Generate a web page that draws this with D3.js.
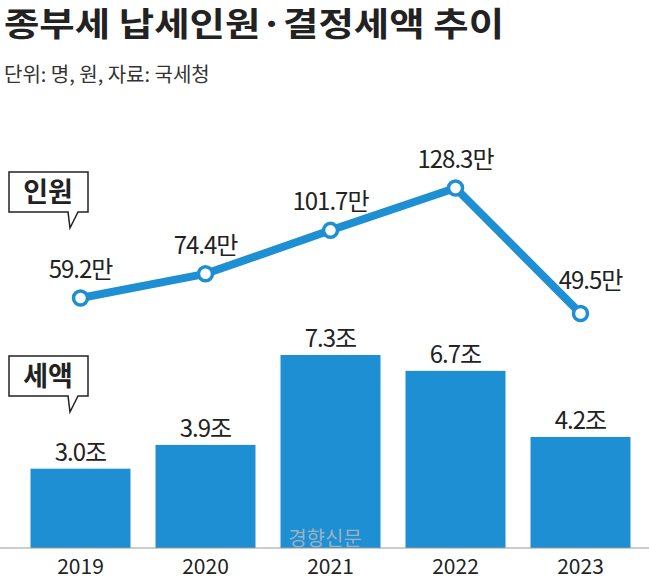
<html>
<head>
<script src="https://d3js.org/d3.v7.min.js"></script>
<style>body{margin:0;background:#fff}</style>
</head>
<body>
<script>
const years = ["2019", "2020", "2021", "2022", "2023"];
const people = [59.2, 74.4, 101.7, 128.3, 49.5];
const tax = [3.0, 3.9, 7.3, 6.7, 4.2];
const blue = "#1f8fd4";
const font = "'Noto Sans CJK KR', 'Noto Sans', sans-serif";
const W = 649, H = 582;

const svg = d3.select("body").append("svg").attr("width", W).attr("height", H)
  .style("font-family", font);

svg.append("text").attr("x", 4).attr("y", 36).attr("font-size", 33).attr("font-weight", 700)
  .attr("fill", "#222").attr("textLength", 500).attr("lengthAdjust", "spacingAndGlyphs")
  .text("종부세 납세인원·결정세액 추이");
svg.append("text").attr("x", 4).attr("y", 82).attr("font-size", 20)
  .attr("fill", "#333").text("단위: 명, 원, 자료: 국세청");

const x = d3.scaleBand().domain(years).range([18, 643]).paddingInner(0.2).paddingOuter(0.1);
const base = 548;
const yb = d3.scaleLinear().domain([0, 7.3]).range([base, 355]);
const yl = d3.scaleLinear().domain([59.2, 128.3]).range([298, 188]);
const cx = d => x(d) + x.bandwidth() / 2;

svg.selectAll("rect.bar").data(tax).join("rect").attr("class", "bar")
  .attr("x", (d, i) => x(years[i])).attr("width", x.bandwidth())
  .attr("y", d => yb(d)).attr("height", d => base - yb(d)).attr("fill", blue);

svg.selectAll("text.bv").data(tax).join("text").attr("class", "bv")
  .attr("x", (d, i) => cx(years[i])).attr("y", d => yb(d) - 8)
  .attr("text-anchor", "middle").attr("font-size", 24).attr("fill", "#222").attr("letter-spacing", -1)
  .text(d => d.toFixed(1) + "조");

svg.append("line").attr("x1", 0).attr("x2", W).attr("y1", base).attr("y2", base)
  .attr("stroke", "#999").attr("stroke-width", 1);

svg.append("text").attr("x", 325).attr("y", 546).attr("text-anchor", "middle")
  .attr("font-size", 20).attr("fill", "#bbb").attr("opacity", 0.8).text("경향신문");

svg.selectAll("text.yr").data(years).join("text").attr("class", "yr")
  .attr("x", d => cx(d)).attr("y", 574).attr("text-anchor", "middle")
  .attr("font-size", 21).attr("fill", "#222").text(d => d);

const line = d3.line().x((d, i) => cx(years[i])).y(d => yl(d));
svg.append("path").datum(people).attr("d", line).attr("fill", "none")
  .attr("stroke", blue).attr("stroke-width", 8).attr("stroke-linejoin", "round");
svg.selectAll("circle").data(people).join("circle")
  .attr("cx", (d, i) => cx(years[i])).attr("cy", d => yl(d)).attr("r", 7)
  .attr("fill", "#fff").attr("stroke", blue).attr("stroke-width", 3.5);

const lblOff = [[0, -20], [0, -20], [0, -20], [0, -20], [10, -24]];
svg.selectAll("text.pv").data(people).join("text").attr("class", "pv")
  .attr("x", (d, i) => cx(years[i]) + lblOff[i][0]).attr("y", (d, i) => yl(d) + lblOff[i][1])
  .attr("text-anchor", "middle").attr("font-size", 24).attr("fill", "#222").attr("letter-spacing", -1)
  .text(d => d.toFixed(1) + "만");

function callout(y0, label) {
  const g = svg.append("g");
  g.append("path")
    .attr("d", `M9,${y0} H88 V${y0 + 40} H78 L70,${y0 + 56} L68,${y0 + 40} H9 Z`)
    .attr("fill", "#fff").attr("stroke", "#222").attr("stroke-width", 1.5);
  g.append("text").attr("x", 48).attr("y", y0 + 30).attr("text-anchor", "middle")
    .attr("font-size", 27).attr("font-weight", 700).attr("fill", "#222").text(label);
}
callout(172, "인원");
callout(356, "세액");
</script>
</body>
</html>
